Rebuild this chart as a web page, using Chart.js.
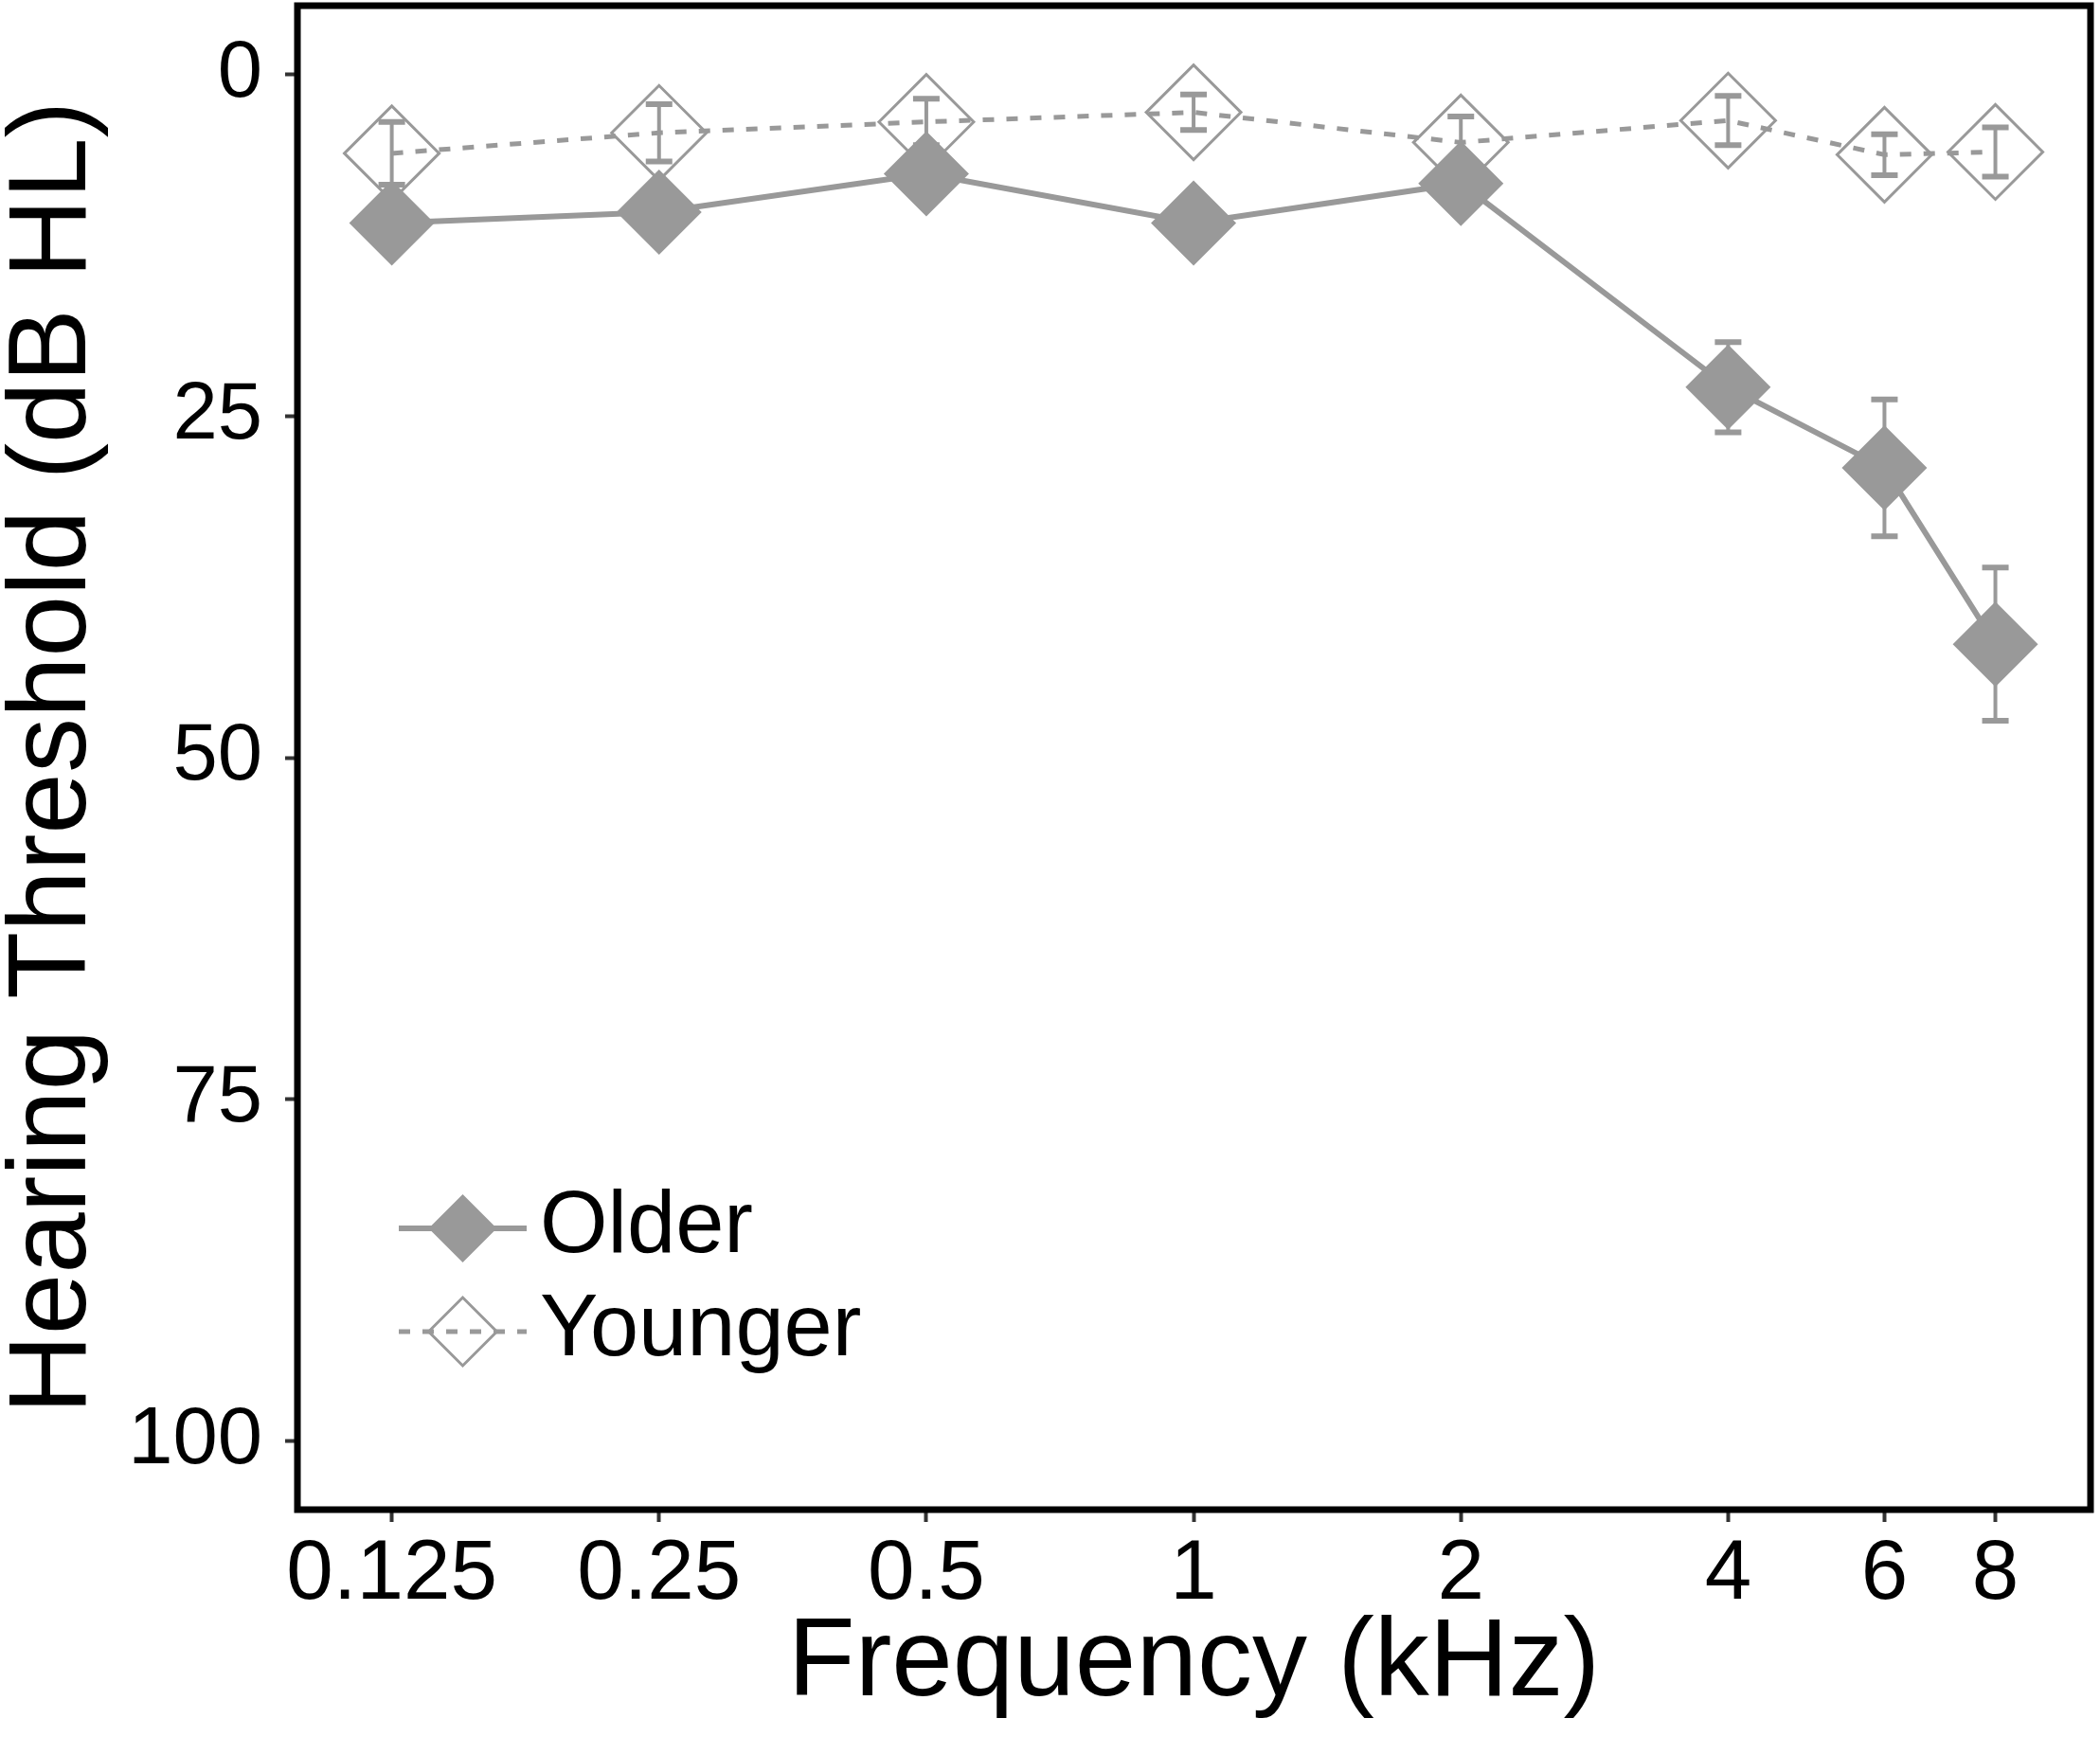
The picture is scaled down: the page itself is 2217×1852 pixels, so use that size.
<!DOCTYPE html>
<html><head><meta charset="utf-8">
<script src="https://cdn.jsdelivr.net/npm/chart.js@4/dist/chart.umd.min.js"></script>
<style>html,body{margin:0;padding:0;background:#fff;}</style>
</head><body>
<canvas id="c" width="2217" height="1852"></canvas>
<script>
// ---- data ----
const frequencies = [0.125, 0.25, 0.5, 1, 2, 4, 6, 8];
const xTickLabels = ['0.125', '0.25', '0.5', '1', '2', '4', '6', '8'];
const olderMean = [10.9, 10.1, 7.3, 10.9, 8.0, 22.9, 28.8, 41.7];
const olderErr = [1.5, 1.5, 1.5, 1.5, 1.5, 3.3, 5.0, 5.6];
const youngerMean = [5.8, 4.3, 3.5, 2.8, 5.0, 3.4, 5.9, 5.7];
const youngerErr = [2.3, 2.1, 1.7, 1.3, 1.9, 1.8, 1.5, 1.8];
const yTicks = [0, 25, 50, 75, 100];
const seriesNames = ['Older', 'Younger'];
const xTitle = 'Frequency (kHz)';
const yTitle = 'Hearing Threshold (dB HL)';

const GREY = '#999999';
const FONT = "'Liberation Sans', Arial, Helvetica, sans-serif";

const toPoints = (vals) => frequencies.map((f, i) => ({x: f, y: vals[i]}));

const errorBarPlugin = {
  id: 'errorBars',
  beforeDatasetsDraw(chart) {
    const ctx = chart.ctx, xs = chart.scales.x, ys = chart.scales.y;
    chart.data.datasets.forEach((ds) => {
      if (!ds.errors) return;
      ctx.save();
      ctx.strokeStyle = ds.errorColor;
      ds.data.forEach((p, i) => {
        const px = xs.getPixelForValue(p.x);
        const t = ys.getPixelForValue(p.y - ds.errors[i]);
        const b = ys.getPixelForValue(p.y + ds.errors[i]);
        ctx.lineWidth = 4;
        ctx.beginPath(); ctx.moveTo(px, t); ctx.lineTo(px, b); ctx.stroke();
        ctx.lineWidth = 6;
        ctx.beginPath();
        ctx.moveTo(px - 14, t); ctx.lineTo(px + 14, t);
        ctx.moveTo(px - 14, b); ctx.lineTo(px + 14, b);
        ctx.stroke();
      });
      ctx.restore();
    });
  }
};

const boxPlugin = {
  id: 'box',
  afterDraw(chart) {
    const {ctx, chartArea: a} = chart;
    ctx.save();
    ctx.strokeStyle = '#000';
    ctx.lineWidth = 7;
    ctx.strokeRect(a.left, a.top, a.right - a.left, a.bottom - a.top);
    ctx.restore();
  }
};

const legendPlugin = {
  id: 'customLegend',
  afterDraw(chart) {
    const {ctx, chartArea: a} = chart;
    const ds = chart.data.datasets;
    const x0 = a.left + 107, x1 = a.left + 242, cx = (x0 + x1) / 2;
    const rows = [a.bottom - 297, a.bottom - 188];
    ctx.save();
    ds.forEach((d, i) => {
      const y = rows[i];
      ctx.strokeStyle = GREY;
      ctx.lineWidth = d.borderWidth;
      ctx.setLineDash(d.borderDash || []);
      ctx.beginPath(); ctx.moveTo(x0, y); ctx.lineTo(x1, y); ctx.stroke();
      ctx.setLineDash([]);
      const r = 36;
      ctx.beginPath();
      ctx.moveTo(cx - r, y); ctx.lineTo(cx, y - r); ctx.lineTo(cx + r, y); ctx.lineTo(cx, y + r); ctx.closePath();
      if (i === 0) { ctx.fillStyle = GREY; ctx.fill(); }
      else { ctx.lineWidth = 3; ctx.stroke(); }
      ctx.fillStyle = '#000';
      ctx.font = '92px ' + FONT;
      ctx.textAlign = 'left';
      ctx.textBaseline = 'middle';
      ctx.fillText(d.label, x1 + 14, y);
    });
    ctx.restore();
  }
};

new Chart(document.getElementById('c'), {
  type: 'line',
  data: {
    datasets: [
      {
        label: seriesNames[0],
        data: toPoints(olderMean),
        errors: olderErr,
        errorColor: GREY,
        borderColor: GREY,
        borderWidth: 6,
        pointStyle: 'rectRot',
        pointRadius: 45,
        pointBackgroundColor: GREY,
        pointBorderColor: GREY,
        pointBorderWidth: 0,
        tension: 0,
        clip: false
      },
      {
        label: seriesNames[1],
        data: toPoints(youngerMean),
        errors: youngerErr,
        errorColor: GREY,
        borderColor: GREY,
        borderWidth: 5,
        borderDash: [12, 13],
        pointStyle: 'rectRot',
        pointRadius: 50,
        pointBackgroundColor: 'rgba(255,255,255,0)',
        pointBorderColor: GREY,
        pointBorderWidth: 3,
        tension: 0,
        clip: false
      }
    ]
  },
  options: {
    responsive: false,
    devicePixelRatio: 1,
    animation: false,
    events: [],
    layout: {autoPadding: false, padding: {top: 6, right: 10, left: 0, bottom: 0}},
    plugins: {legend: {display: false}, tooltip: {enabled: false}},
    scales: {
      x: {
        type: 'logarithmic',
        min: 0.125 * Math.pow(2, -0.353),
        max: 8 * Math.pow(2, 0.356),
        afterBuildTicks: (s) => { s.ticks = frequencies.map(v => ({value: v})); },
        afterFit: (s) => { s.height = 258; s.paddingLeft = 0; s.paddingRight = 0; },
        ticks: {
          autoSkip: false, maxRotation: 0, minRotation: 0,
          color: '#000', padding: 3,
          font: {family: FONT, size: 89},
          callback: (v) => { const i = frequencies.indexOf(v); return i >= 0 ? xTickLabels[i] : ''; }
        },
        grid: {drawOnChartArea: false, drawTicks: true, tickLength: 13, tickWidth: 4, tickColor: '#333'},
        border: {display: false},
        title: {display: true, text: xTitle, color: '#000', font: {family: FONT, size: 116, lineHeight: 1}, padding: {top: 0, bottom: 36}}
      },
      y: {
        type: 'linear',
        reverse: true,
        min: -5,
        max: 105,
        afterBuildTicks: (s) => { s.ticks = yTicks.map(v => ({value: v})); },
        afterFit: (s) => { s.width = 314; s.paddingTop = 0; s.paddingBottom = 0; },
        ticks: {color: '#000', padding: 24, font: {family: FONT, size: 85, lineHeight: 1}},
        grid: {drawOnChartArea: false, drawTicks: true, tickLength: 13, tickWidth: 4, tickColor: '#333'},
        border: {display: false},
        title: {display: true, text: yTitle, color: '#000', font: {family: FONT, size: 116, lineHeight: 1}, padding: {top: 0, bottom: 0}}
      }
    }
  },
  plugins: [errorBarPlugin, boxPlugin, legendPlugin]
});
</script>
</body></html>
